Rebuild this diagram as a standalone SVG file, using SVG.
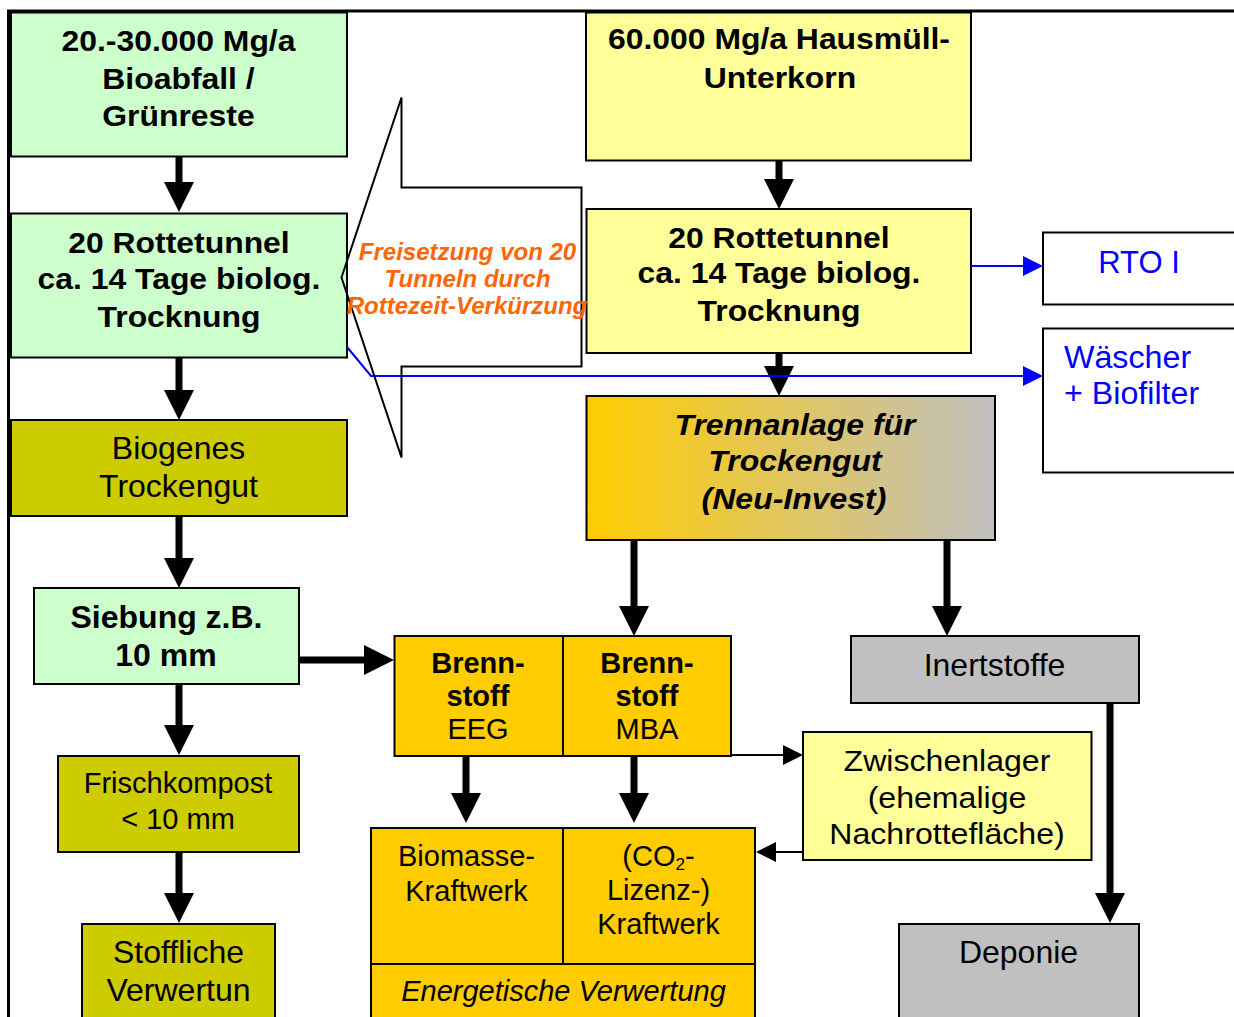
<svg xmlns="http://www.w3.org/2000/svg" width="1234" height="1017" viewBox="0 0 1234 1017">
  <style>
    .box{stroke:#000;stroke-width:2}
    .green{fill:#CCFFCC}
    .yellow{fill:#FFFF99}
    .olive{fill:#CCCC00}
    .fuel{fill:#FFCC00}
    .grey{fill:#C0C0C0}
    .white{fill:#FFFFFF}
    .divider{stroke:#000;stroke-width:2;fill:none}
    text{font-family:"Liberation Sans",Arial,Helvetica,sans-serif;text-anchor:middle;fill:#000}
    .b{font-weight:bold}
    .i{font-style:italic}
    .s32{font-size:32px}
    .s31{font-size:31px}
    .s30{font-size:30px}
    .s29{font-size:29px}
    .note{font-size:24px;font-weight:bold;font-style:italic;fill:#FF6600}
    .bluetext{fill:#0000FF}
    .left{text-anchor:start}
    .thick{stroke:#000;stroke-width:7;fill:none;marker-end:url(#headThick)}
    .thin{stroke:#000;stroke-width:2;fill:none;marker-end:url(#headThin)}
    .blue{stroke:#0000FF;stroke-width:2;fill:none;marker-end:url(#headBlue)}
    .frame{stroke:#000;stroke-width:3;fill:none}
    .hollow{stroke:#000;stroke-width:2;fill:none;stroke-linejoin:miter}
  </style>
  <defs>
    <linearGradient id="sepGrad" x1="0" y1="0" x2="1" y2="0">
      <stop offset="0" stop-color="#FFCC00"/>
      <stop offset="1" stop-color="#C0C0C0"/>
    </linearGradient>
    <marker id="headThick" markerUnits="userSpaceOnUse" markerWidth="30" markerHeight="30" viewBox="0 0 30 30" refX="8" refY="15" orient="auto">
      <path d="M0,0 L30,15 L0,30 z" fill="#000"/>
    </marker>
    <marker id="headThin" markerUnits="userSpaceOnUse" markerWidth="20" markerHeight="20" viewBox="0 0 20 20" refX="4" refY="10" orient="auto">
      <path d="M0,0 L20,10 L0,20 z" fill="#000"/>
    </marker>
    <marker id="headBlue" markerUnits="userSpaceOnUse" markerWidth="20" markerHeight="20" viewBox="0 0 20 20" refX="4" refY="10" orient="auto">
      <path d="M0,0 L20,10 L0,20 z" fill="#0000FF"/>
    </marker>
  </defs>

  <rect x="0" y="0" width="1234" height="1017" fill="#FFFFFF"/>
  <!-- outer frame (top and left edges) -->
  <path class="frame" d="M8.5,1017 V11 H1234"/>

  <!-- left column: bio waste -->
  <g id="bioabfall">
    <rect class="box green" x="11" y="12.5" width="336" height="144"/>
    <g class="b s29">
      <text x="178.5" y="51.5" transform="matrix(1.1 0 0 1 -17.85 0)">20.-30.000 Mg/a</text>
      <text x="178.5" y="89" transform="matrix(1.1 0 0 1 -17.85 0)">Bioabfall /</text>
      <text x="178.5" y="126" transform="matrix(1.1 0 0 1 -17.85 0)">Grünreste</text>
    </g>
  </g>

  <g id="rottetunnel-bio">
    <rect class="box green" x="11" y="213.5" width="336" height="144"/>
    <g class="b s29">
      <text x="179" y="253" transform="matrix(1.1 0 0 1 -17.9 0)">20 Rottetunnel</text>
      <text x="179" y="289" transform="matrix(1.1 0 0 1 -17.9 0)">ca. 14 Tage biolog.</text>
      <text x="179" y="327" transform="matrix(1.1 0 0 1 -17.9 0)">Trocknung</text>
    </g>
  </g>

  <g id="biogenes-trockengut">
    <rect class="box olive" x="11" y="420" width="336" height="96"/>
    <text class="s32" x="178.5" y="459">Biogenes</text>
    <text class="s32" x="178.5" y="496.5">Trockengut</text>
  </g>

  <g id="siebung">
    <rect class="box green" x="34" y="588" width="265" height="96"/>
    <text class="b s32" x="166.5" y="628">Siebung z.B.</text>
    <text class="b s32" x="166" y="666">10 mm</text>
  </g>

  <g id="frischkompost">
    <rect class="box olive" x="58" y="756" width="241" height="96"/>
    <text class="s29" x="178" y="793">Frischkompost</text>
    <text class="s29" x="178" y="829">&lt; 10 mm</text>
  </g>

  <g id="stoffliche-verwertung">
    <rect class="box olive" x="82" y="924" width="193" height="110"/>
    <text class="s32" x="178.5" y="963">Stoffliche</text>
    <text class="s32" x="178.5" y="1000.5">Verwertun</text>
  </g>

  <!-- right column: residual waste -->
  <g id="hausmuell">
    <rect class="box yellow" x="586" y="12.5" width="385" height="148"/>
    <g class="b s29">
      <text x="779" y="49.5" transform="matrix(1.1 0 0 1 -77.9 0)">60.000 Mg/a Hausmüll-</text>
      <text x="780" y="88" transform="matrix(1.1 0 0 1 -78 0)">Unterkorn</text>
    </g>
  </g>

  <g id="rottetunnel-rest">
    <rect class="box yellow" x="586.5" y="209" width="384.5" height="144"/>
    <g class="b s29">
      <text x="779" y="248" transform="matrix(1.1 0 0 1 -77.9 0)">20 Rottetunnel</text>
      <text x="779" y="283.5" transform="matrix(1.1 0 0 1 -77.9 0)">ca. 14 Tage biolog.</text>
      <text x="779" y="321.5" transform="matrix(1.1 0 0 1 -77.9 0)">Trocknung</text>
    </g>
  </g>

  <g id="trennanlage">
    <rect class="box" fill="url(#sepGrad)" x="586.5" y="396" width="408.5" height="144"/>
    <g class="b i s30">
      <text x="795" y="435.5" transform="matrix(1.066 0 0 1 -52.47 0)">Trennanlage für</text>
      <text x="795" y="471.5" transform="matrix(1.066 0 0 1 -52.47 0)">Trockengut</text>
      <text x="794" y="509" transform="matrix(1.066 0 0 1 -52.4 0)">(Neu-Invest)</text>
    </g>
  </g>

  <g id="rto">
    <rect class="box white" x="1043" y="232.5" width="200" height="72"/>
    <text class="s31 bluetext" x="1139" y="272.5">RTO I</text>
  </g>

  <g id="waescher">
    <rect class="box white" x="1043" y="328.5" width="200" height="144"/>
    <text class="s31 bluetext left" x="1064" y="368" transform="matrix(1.04 0 0 1 -42.56 0)">Wäscher</text>
    <text class="s31 bluetext left" x="1064" y="404" transform="matrix(1.04 0 0 1 -42.56 0)">+ Biofilter</text>
  </g>

  <g id="brennstoff">
    <rect class="box fuel" x="394.5" y="636" width="336.5" height="120"/>
    <line class="divider" x1="563" y1="636" x2="563" y2="756"/>
    <text class="b s29" x="478" y="673">Brenn-</text>
    <text class="b s29" x="478" y="706">stoff</text>
    <text class="s29" x="478" y="739">EEG</text>
    <text class="b s29" x="647" y="673">Brenn-</text>
    <text class="b s29" x="647" y="706">stoff</text>
    <text class="s29" x="647" y="739">MBA</text>
  </g>

  <g id="inertstoffe">
    <rect class="box grey" x="851" y="636" width="288" height="67"/>
    <text class="s32" x="994.5" y="676">Inertstoffe</text>
  </g>

  <g id="zwischenlager">
    <rect class="box yellow" x="803" y="732" width="288.5" height="128"/>
    <g class="s30">
      <text x="947" y="771.5" transform="matrix(1.07 0 0 1 -66.29 0)">Zwischenlager</text>
      <text x="947" y="808" transform="matrix(1.07 0 0 1 -66.29 0)">(ehemalige</text>
      <text x="947" y="844" transform="matrix(1.07 0 0 1 -66.29 0)">Nachrottefläche)</text>
    </g>
  </g>

  <g id="kraftwerk">
    <rect class="box fuel" x="371" y="828" width="384" height="200"/>
    <line class="divider" x1="563" y1="828" x2="563" y2="964"/>
    <line class="divider" x1="371" y1="964" x2="755" y2="964"/>
    <text class="s29" x="466.5" y="866">Biomasse-</text>
    <text class="s29" x="466.5" y="901">Kraftwerk</text>
    <text class="s29" x="658.5" y="866">(CO<tspan font-size="17" dy="4">2</tspan><tspan dy="-4">-</tspan></text>
    <text class="s29" x="658.5" y="900">Lizenz-)</text>
    <text class="s29" x="658.5" y="934">Kraftwerk</text>
    <text class="s29 i" x="563.5" y="1001">Energetische Verwertung</text>
  </g>

  <g id="deponie">
    <rect class="box grey" x="899" y="924" width="240" height="110"/>
    <text class="s32" x="1018.5" y="963">Deponie</text>
  </g>

  <!-- connectors -->
  <g id="connectors">
    <path class="thick" d="M179,156.5 V190"/>
    <path class="thick" d="M179,357.5 V398"/>
    <path class="thick" d="M179,516 V566"/>
    <path class="thick" d="M179,684 V733"/>
    <path class="thick" d="M179,852 V901"/>
    <path class="thick" d="M299,660 H372"/>
    <path class="thick" d="M779,160.5 V187"/>
    <path class="thick" d="M779,353 V374"/>
    <path class="thick" d="M634,540 V614"/>
    <path class="thick" d="M947,540 V614"/>
    <path class="thick" d="M466,756 V801"/>
    <path class="thick" d="M634,756 V801"/>
    <path class="thick" d="M1110,703 V901"/>
    <path class="thin" d="M731,755 H787"/>
    <path class="thin" d="M803,852 H772"/>
    <path class="blue" d="M971,266 H1027"/>
    <path class="blue" d="M347,347 L371,376 H1027"/>
  </g>

  <!-- hollow block arrow with note -->
  <g id="freisetzung">
    <path class="hollow" d="M341.5,277.5 L401.5,97.5 V187.5 H581.5 V366.5 H401.5 V457.5 Z"/>
    <text class="note" x="467.5" y="260">Freisetzung von 20</text>
    <text class="note" x="467.5" y="287">Tunneln durch</text>
    <text class="note" x="467" y="314">Rottezeit-Verkürzung</text>
  </g>
</svg>
